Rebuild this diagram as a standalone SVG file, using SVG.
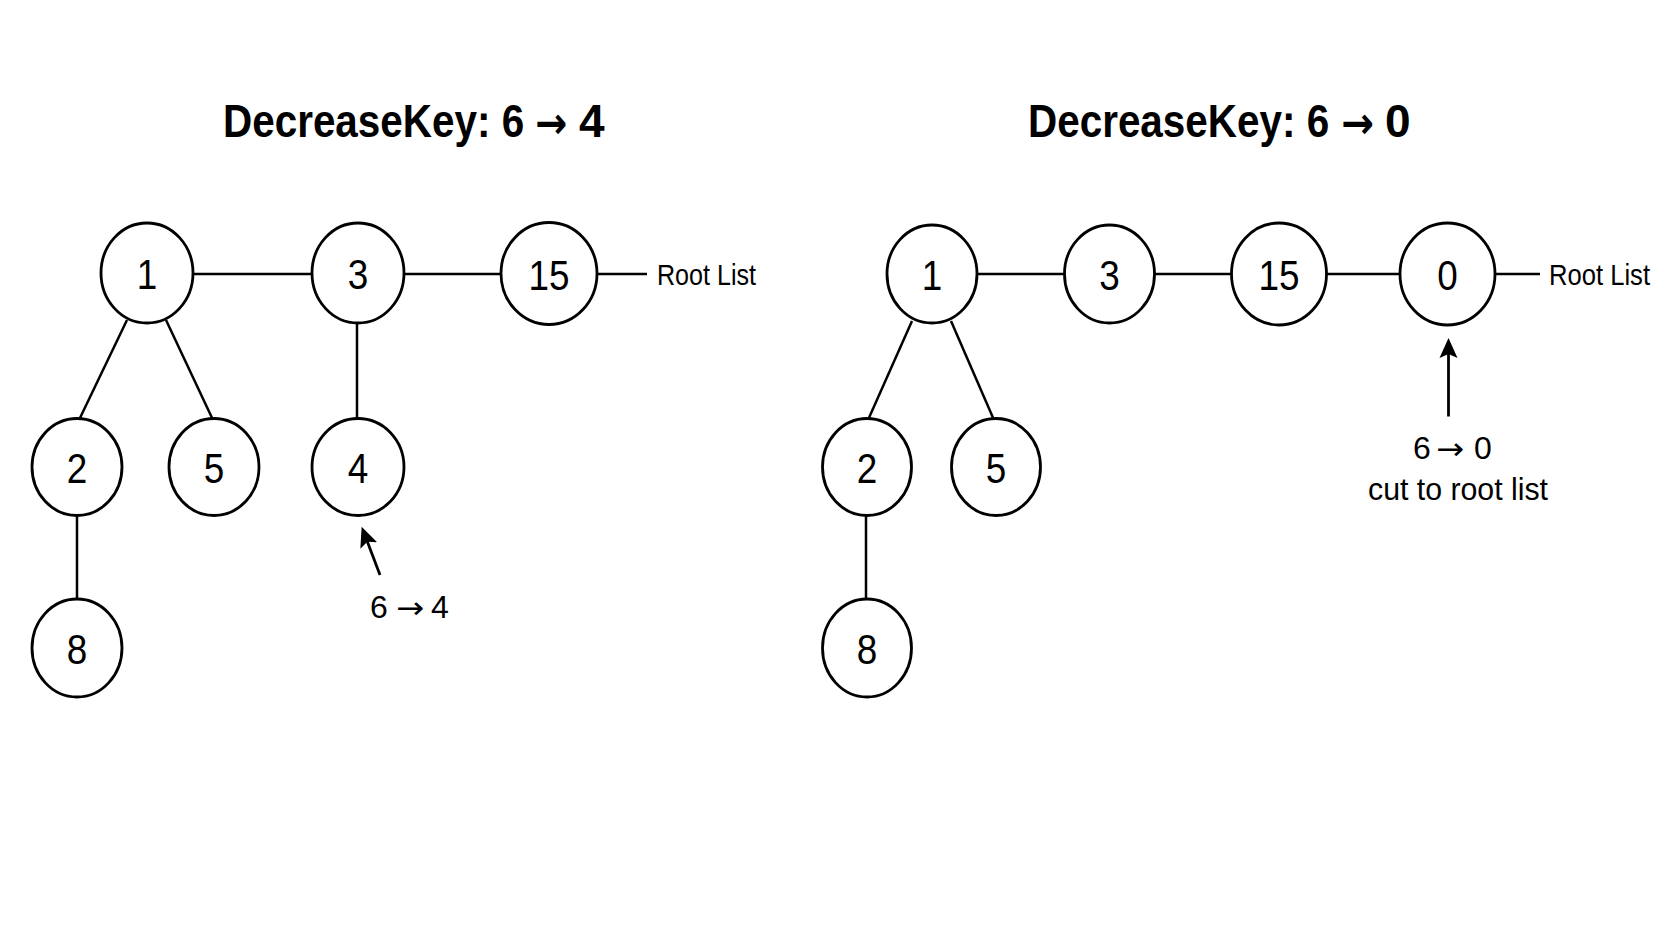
<svg xmlns="http://www.w3.org/2000/svg" width="1672" height="941" viewBox="0 0 1672 941">
<style>
.bg{fill:#ffffff}
.node ellipse{fill:#ffffff;stroke:#000;stroke-width:2.8}
.node text{font-family:"Liberation Sans",Arial,sans-serif;font-size:43px;fill:#000;text-anchor:middle}
.edge{stroke:#000;stroke-width:2.5;fill:none}
.arrow{stroke:#000;stroke-width:2.8;fill:none;marker-end:url(#ah)}
.title{font-family:"Liberation Sans",Arial,sans-serif;font-weight:bold;font-size:46px;fill:#000}
.tar{font-family:"DejaVu Sans",sans-serif;font-weight:bold;font-size:44px;fill:#000}
.lbl{font-family:"Liberation Sans",Arial,sans-serif;font-size:29px;fill:#000}
.note{font-family:"Liberation Sans",Arial,sans-serif;font-size:32px;fill:#000}
.nc{text-anchor:middle}
.nar{font-family:"DejaVu Sans",sans-serif;font-size:30px;fill:#000}
</style>
<defs>
<marker id="ah" viewBox="0 0 20 20" refX="10" refY="10" markerWidth="20" markerHeight="20" markerUnits="userSpaceOnUse" orient="auto">
<path d="M0,1 L20,10 L0,19 L4,10 z" fill="#000"/>
</marker>
</defs>
<rect class="bg" x="0" y="0" width="1672" height="941"/>

<g id="title-left">
<text class="title" transform="translate(223 137) scale(0.879 1)">DecreaseKey: 6</text>
<text class="tar" transform="translate(535 138) scale(0.87 1)">→</text>
<text class="title" x="579" y="137">4</text>
</g>
<g id="title-right">
<text class="title" transform="translate(1028 137) scale(0.879 1)">DecreaseKey: 6</text>
<text class="tar" transform="translate(1341 138) scale(0.89 1)">→</text>
<text class="title" x="1385" y="137">0</text>
</g>

<g id="connectors">
<!-- left -->
<line class="edge" x1="193" y1="274" x2="312" y2="274"/>
<line class="edge" x1="404" y1="274" x2="501" y2="274"/>
<line class="edge" x1="597" y1="274" x2="647" y2="274"/>
<line class="edge" x1="127" y1="320" x2="79" y2="420"/>
<line class="edge" x1="166" y1="320" x2="213" y2="420"/>
<line class="edge" x1="357" y1="323" x2="357" y2="419"/>
<line class="edge" x1="77" y1="516" x2="77" y2="599"/>
<line class="arrow" x1="380" y1="575" x2="365.2" y2="536.1"/>
<!-- right -->
<line class="edge" x1="977" y1="274" x2="1065" y2="274"/>
<line class="edge" x1="1154" y1="274" x2="1231" y2="274"/>
<line class="edge" x1="1326" y1="274" x2="1400" y2="274"/>
<line class="edge" x1="1495" y1="274" x2="1540" y2="274"/>
<line class="edge" x1="912" y1="321" x2="868" y2="420"/>
<line class="edge" x1="951" y1="321" x2="994" y2="420"/>
<line class="edge" x1="866" y1="516" x2="866" y2="599"/>
<line class="arrow" x1="1448.5" y1="416.5" x2="1448.5" y2="348"/>
</g>

<!-- left panel nodes -->
<g id="L1" class="node"><ellipse cx="147" cy="273" rx="46" ry="50"/><text x="147" y="289" textLength="20.5" lengthAdjust="spacingAndGlyphs">1</text></g>
<g id="L3" class="node"><ellipse cx="358" cy="273" rx="46" ry="50"/><text x="358" y="289" textLength="20.5" lengthAdjust="spacingAndGlyphs">3</text></g>
<g id="L15" class="node"><ellipse cx="549" cy="273.5" rx="48" ry="51"/><text x="549" y="289.5" textLength="41" lengthAdjust="spacingAndGlyphs">15</text></g>
<g id="L2" class="node"><ellipse cx="77" cy="467" rx="45" ry="48.5"/><text x="77" y="483" textLength="20.5" lengthAdjust="spacingAndGlyphs">2</text></g>
<g id="L5" class="node"><ellipse cx="214" cy="467" rx="45" ry="48.5"/><text x="214" y="483" textLength="20.5" lengthAdjust="spacingAndGlyphs">5</text></g>
<g id="L4" class="node"><ellipse cx="358" cy="467" rx="46" ry="48.5"/><text x="358" y="483" textLength="20.5" lengthAdjust="spacingAndGlyphs">4</text></g>
<g id="L8" class="node"><ellipse cx="77" cy="648" rx="45" ry="49"/><text x="77" y="664" textLength="20.5" lengthAdjust="spacingAndGlyphs">8</text></g>
<text class="lbl" x="657" y="285" textLength="99" lengthAdjust="spacingAndGlyphs">Root List</text>
<g id="note-left">
<text class="note" x="370" y="618">6</text>
<text class="nar" x="396" y="618" textLength="28" lengthAdjust="spacingAndGlyphs">→</text>
<text class="note" x="431" y="618">4</text>
</g>

<!-- right panel nodes -->
<g id="R1" class="node"><ellipse cx="932" cy="274" rx="45" ry="49"/><text x="932" y="290" textLength="20.5" lengthAdjust="spacingAndGlyphs">1</text></g>
<g id="R3" class="node"><ellipse cx="1109.5" cy="274" rx="45" ry="49"/><text x="1109.5" y="290" textLength="20.5" lengthAdjust="spacingAndGlyphs">3</text></g>
<g id="R15" class="node"><ellipse cx="1279" cy="274" rx="47.5" ry="51"/><text x="1279" y="290" textLength="41" lengthAdjust="spacingAndGlyphs">15</text></g>
<g id="R0" class="node"><ellipse cx="1447.5" cy="274" rx="47.5" ry="51"/><text x="1447.5" y="290" textLength="20.5" lengthAdjust="spacingAndGlyphs">0</text></g>
<g id="R2" class="node"><ellipse cx="867" cy="467" rx="44.5" ry="48.5"/><text x="867" y="483" textLength="20.5" lengthAdjust="spacingAndGlyphs">2</text></g>
<g id="R5" class="node"><ellipse cx="996" cy="467" rx="44.5" ry="48.5"/><text x="996" y="483" textLength="20.5" lengthAdjust="spacingAndGlyphs">5</text></g>
<g id="R8" class="node"><ellipse cx="867" cy="648" rx="44.5" ry="49"/><text x="867" y="664" textLength="20.5" lengthAdjust="spacingAndGlyphs">8</text></g>
<text class="lbl" x="1549" y="285" textLength="101" lengthAdjust="spacingAndGlyphs">Root List</text>
<g id="note-right">
<text class="note" x="1413" y="459">6</text>
<text class="nar" x="1436" y="459" textLength="28" lengthAdjust="spacingAndGlyphs">→</text>
<text class="note" x="1474" y="459">0</text>
<text class="note nc" x="1458" y="500" textLength="180" lengthAdjust="spacingAndGlyphs">cut to root list</text>
</g>
</svg>
